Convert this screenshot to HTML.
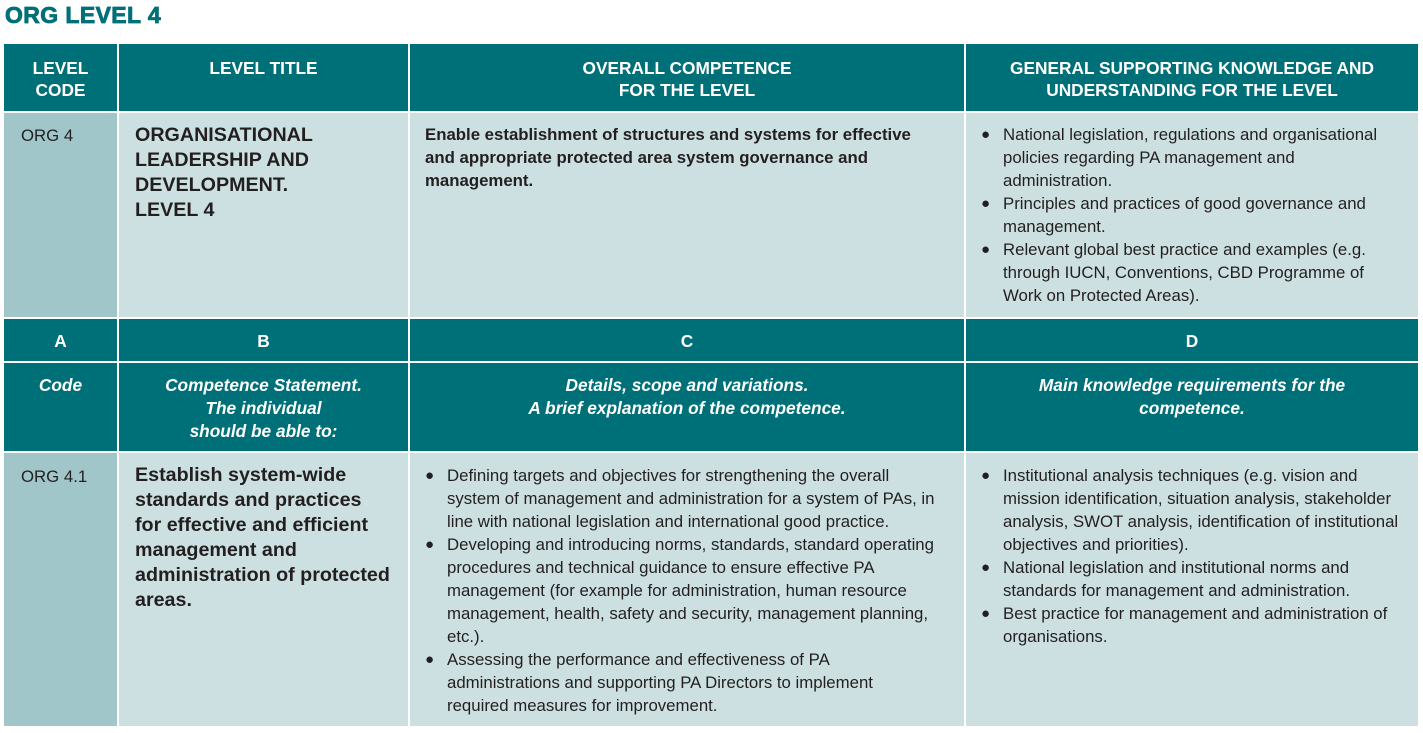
<!DOCTYPE html>
<html><head><meta charset="utf-8"><style>
body{margin:0;width:1423px;height:733px;background:#fff;font-family:"Liberation Sans",Arial,sans-serif;position:relative;overflow:hidden}
.t{position:absolute;left:5px;top:2px;font-size:23px;font-weight:bold;color:#007078;-webkit-text-stroke:0.8px #007078;letter-spacing:0.4px}
.c{position:absolute;box-sizing:border-box;font-size:16.8px;line-height:23px;color:#231f20;white-space:nowrap}
.h{background:#007078;color:#fff;font-weight:bold;text-align:center;padding-top:13px;line-height:22px;font-size:17.3px}
.l{background:#cce0e2}
.d{background:#a1c6ca}
.i{font-style:italic}
ul{margin:0;padding:0;list-style:none}
li{position:relative;padding-left:22px}
li:before{content:"●";position:absolute;left:0;top:0;font-size:15px}
.big{font-size:19.7px;font-weight:bold;line-height:25px}
</style></head><body>
<div class="t">ORG LEVEL 4</div>

<div class="c h" style="left:4px;top:44px;width:113px;height:67px">LEVEL<br>CODE</div>
<div class="c h" style="left:119px;top:44px;width:289px;height:67px">LEVEL TITLE</div>
<div class="c h" style="left:410px;top:44px;width:554px;height:67px">OVERALL COMPETENCE<br>FOR THE LEVEL</div>
<div class="c h" style="left:966px;top:44px;width:452px;height:67px">GENERAL SUPPORTING KNOWLEDGE AND<br>UNDERSTANDING FOR THE LEVEL</div>

<div class="c d" style="left:4px;top:113px;width:113px;height:204px;padding:11px 0 0 17px">ORG 4</div>
<div class="c l big" style="left:119px;top:113px;width:289px;height:204px;padding:10px 0 0 16px">ORGANISATIONAL<br>LEADERSHIP AND<br>DEVELOPMENT.<br>LEVEL 4</div>
<div class="c l" style="left:410px;top:113px;width:554px;height:204px;padding:10px 0 0 15px;font-weight:bold">Enable establishment of structures and systems for effective<br>and appropriate protected area system governance and<br>management.</div>
<div class="c l" style="left:966px;top:113px;width:452px;height:204px;padding:10px 0 0 15px"><ul>
<li>National legislation, regulations and organisational<br>policies regarding PA management and<br>administration.</li>
<li>Principles and practices of good governance and<br>management.</li>
<li>Relevant global best practice and examples (e.g.<br>through IUCN, Conventions, CBD Programme of<br>Work on Protected Areas).</li></ul></div>

<div class="c h" style="left:4px;top:319px;width:113px;height:42px;padding-top:11px">A</div>
<div class="c h" style="left:119px;top:319px;width:289px;height:42px;padding-top:11px">B</div>
<div class="c h" style="left:410px;top:319px;width:554px;height:42px;padding-top:11px">C</div>
<div class="c h" style="left:966px;top:319px;width:452px;height:42px;padding-top:11px">D</div>

<div class="c h i" style="left:4px;top:363px;width:113px;height:88px;padding-top:11px;line-height:23px">Code</div>
<div class="c h i" style="left:119px;top:363px;width:289px;height:88px;padding-top:11px;line-height:23px">Competence Statement.<br>The individual<br>should be able to:</div>
<div class="c h i" style="left:410px;top:363px;width:554px;height:88px;padding-top:11px;line-height:23px">Details, scope and variations.<br>A brief explanation of the competence.</div>
<div class="c h i" style="left:966px;top:363px;width:452px;height:88px;padding-top:11px;line-height:23px">Main knowledge requirements for the<br>competence.</div>

<div class="c d" style="left:4px;top:453px;width:113px;height:273px;padding:12px 0 0 17px">ORG 4.1</div>
<div class="c l big" style="left:119px;top:453px;width:289px;height:273px;padding:10px 0 0 16px">Establish system-wide<br>standards and practices<br>for effective and efficient<br>management and<br>administration of protected<br>areas.</div>
<div class="c l" style="left:410px;top:453px;width:554px;height:273px;padding:11px 0 0 15px"><ul>
<li>Defining targets and objectives for strengthening the overall<br>system of management and administration for a system of PAs, in<br>line with national legislation and international good practice.</li>
<li>Developing and introducing norms, standards, standard operating<br>procedures and technical guidance to ensure effective PA<br>management (for example for administration, human resource<br>management, health, safety and security, management planning,<br>etc.).</li>
<li>Assessing the performance and effectiveness of PA<br>administrations and supporting PA Directors to implement<br>required measures for improvement.</li></ul></div>
<div class="c l" style="left:966px;top:453px;width:452px;height:273px;padding:11px 0 0 15px"><ul>
<li>Institutional analysis techniques (e.g. vision and<br>mission identification, situation analysis, stakeholder<br>analysis, SWOT analysis, identification of institutional<br>objectives and priorities).</li>
<li>National legislation and institutional norms and<br>standards for management and administration.</li>
<li>Best practice for management and administration of<br>organisations.</li></ul></div>
</body></html>
